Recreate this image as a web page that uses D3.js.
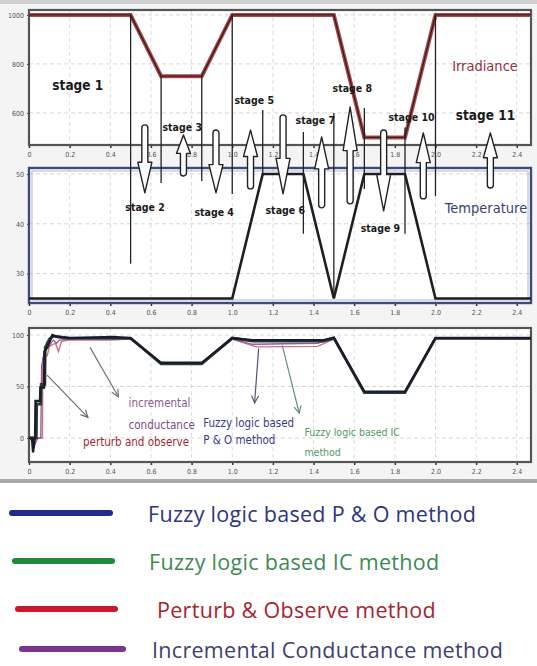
<!DOCTYPE html>
<html>
<head>
<meta charset="utf-8">
<script src="https://cdn.jsdelivr.net/npm/d3@7/dist/d3.min.js"></script>
<style>
  html, body { margin: 0; padding: 0; background: #ffffff; }
  svg { display: block; }
</style>
</head>
<body>
<svg id="chart" width="537" height="666"></svg>
<script>
// ---- data -------------------------------------------------------------
const timeTicks = [0, 0.2, 0.4, 0.6, 0.8, 1.0, 1.2, 1.4, 1.6, 1.8, 2.0, 2.2, 2.4];
const irrTicks = [600, 800, 1000];
const tempTicks = [30, 40, 50];
const powerTicks = [0, 50, 100];

// irradiance profile (W/m2)
const irrT = [0, 0.5, 0.65, 0.85, 1.0, 1.5, 1.65, 1.85, 2.0, 2.47];
const irrV = [1000, 1000, 750, 750, 1000, 1000, 500, 500, 1000, 1000];

// temperature profile (deg C)
const tempT = [0, 1.0, 1.15, 1.35, 1.5, 1.65, 1.85, 2.0, 2.47];
const tempV = [25, 25, 50, 50, 25, 50, 50, 25, 25];

// stage boundaries: line runs from irradiance level (top) to temperature level (bottom)
const boundT = [0.5, 0.65, 0.85, 1.0, 1.15, 1.35, 1.5, 1.65, 1.85, 2.0];
const boundTopIrr = [1000, 750, 750, 1000, 612, 522, 600, 620, 540, 1000];
const boundBottomTemp = [32, 48.2, 48.6, 46, 49.6, 38, 25.6, 47, 38, 45.6];

// hollow direction arrows of each changing stage
const arrowT = [0.57, 0.76, 0.92, 1.09, 1.25, 1.44, 1.58, 1.745, 1.94, 2.27];
const arrowDir = ["down", "up", "down", "up", "down", "up", "up", "down", "up", "up"];
const arrowTopIrr = [551, 510, 530, 530, 592, 502, 624, 530, 518, 518];
const arrowBottomTemp = [46.2, 49.6, 46.2, 47, 46, 43.2, 44, 42.6, 45, 47.2];

// stage names and where they sit (panel: "irr" or "temp")
const stageNames = ["stage 1", "stage 2", "stage 3", "stage 4", "stage 5", "stage 6",
                    "stage 7", "stage 8", "stage 9", "stage 10", "stage 11"];
const stageT = [0.24, 0.571, 0.754, 0.911, 1.108, 1.261, 1.409, 1.591, 1.729, 1.882, 2.246];
const stageV = [714, 43.3, 543, 42.3, 653, 42.7, 571, 702, 39.1, 584, 592];
const stagePanel = ["irr", "temp", "irr", "temp", "irr", "temp", "irr", "irr", "temp", "irr", "irr"];
const stageBig = [true, false, false, false, false, false, false, false, false, false, true];

// tracked power (%) for each MPPT method
const fpoT = [0, 0.015, 0.02, 0.025, 0.03, 0.032, 0.054, 0.056, 0.074, 0.076, 0.09, 0.115, 0.14, 0.2, 0.41, 0.5, 0.65, 0.85, 1.0, 1.1, 1.45, 1.5, 1.65, 1.85, 2.0, 2.47];
const fpoV = [0, 0, -14, -2, 0, 36, 36, 49, 49, 84, 88, 100, 98, 97, 98, 97, 73, 73, 97, 95, 95, 97.5, 45, 45, 97, 97];

const ficT = [0, 0.018, 0.022, 0.028, 0.036, 0.038, 0.058, 0.06, 0.078, 0.08, 0.1, 0.12, 0.2, 0.5, 0.65, 0.85, 1.0, 1.1, 1.45, 1.5, 1.65, 1.85, 2.0, 2.47];
const ficV = [0, 0, -10, 0, 0, 33, 33, 52, 52, 88, 96, 99, 97, 97, 72, 72, 97, 94, 94, 97, 44, 44, 97, 97];

const poT = [0, 0.02, 0.03, 0.045, 0.066, 0.068, 0.09, 0.1, 0.13, 0.145, 0.16, 0.2, 0.4, 0.5, 0.65, 0.85, 1.0, 1.12, 1.42, 1.5, 1.65, 1.85, 2.0, 2.47];
const poV = [0, -4, -6, 0, 0, 78, 80, 89, 92, 84, 94, 95, 95, 96, 72, 72, 96, 88.5, 89, 96, 44, 44, 96, 96];

const icT = [0, 0.058, 0.062, 0.08, 0.1, 0.12, 0.135, 0.15, 0.2, 0.4, 0.5, 0.65, 0.85, 1.0, 1.1, 1.42, 1.5, 1.65, 1.85, 2.0, 2.47];
const icV = [0, 0, 70, 88, 90, 95, 92, 95, 96, 96, 96, 72.5, 72.5, 96, 91, 92, 97, 45, 45, 97, 96];

// callout arrows in the power panel: [t0, p0] -> [t1, p1]
const calloutFrom = [[0.089, 61], [0.30, 88], [1.13, 87], [1.246, 90]];
const calloutTo = [[0.29, 20], [0.44, 40], [1.11, 34], [1.33, 24]];
const calloutColor = ["#7a6a6e", "#7a7078", "#50557a", "#5f8f7a"];

// callout texts: [t, p] for the left end of each line
const noteText = ["incremental", "conductance", "perturb and observe", "Fuzzy logic based",
                  "P & O method", "Fuzzy logic based IC", "method"];
const noteT = [0.49, 0.49, 0.266, 0.857, 0.857, 1.355, 1.355];
const noteP = [34, 13, -4, 15, -2, 6, -14];
const noteColor = ["#8a5a8e", "#7a4a84", "#9a2c34", "#3a3c8a", "#3a3c8a", "#4f9a62", "#4f9a62"];
const noteSize = [11.5, 11.5, 11.5, 11.5, 11.5, 10.5, 10.5];

// legend
const legendNames = ["Fuzzy logic based P & O method", "Fuzzy logic based IC method",
                     "Perturb & Observe method", "Incremental Conductance method"];
const legendLineColor = ["#1f2b8f", "#1e8c3a", "#c8192e", "#7a3590"];
const legendTextColor = ["#2e3580", "#3d8a55", "#a82430", "#3e3f6e"];

// ---- layout -----------------------------------------------------------
const svg = d3.select("#chart");
const narrow = "'Liberation Sans Narrow', 'DejaVu Sans Condensed', 'Arial Narrow', sans-serif";
const left = 29, right = 531;

const x = d3.scaleLinear().domain([0, 2.47]).range([left, right]);
const yIrr = d3.scaleLinear().domain([469, 1020]).range([145, 10]);
const yTemp = d3.scaleLinear().domain([24.1, 51.2]).range([303, 168]);
const yPow = d3.scaleLinear().domain([-23.3, 106.8]).range([462, 328]);

// figure background
svg.append("rect").attr("x", 0).attr("y", 0).attr("width", 537).attr("height", 482).attr("fill", "#f4f4f4");
svg.append("rect").attr("x", 0).attr("y", 0).attr("width", 537).attr("height", 4).attr("fill", "#cfcfcf");
svg.append("rect").attr("x", 0).attr("y", 479).attr("width", 537).attr("height", 4).attr("fill", "#a9a9a9");

const defs = svg.append("defs");

function panel(yScale, yTicks, frameColor, frameWidth, id) {
  const [y0, y1] = yScale.range(); // bottom, top
  const g = svg.append("g");
  g.append("rect").attr("x", left).attr("y", y1).attr("width", right - left).attr("height", y0 - y1)
    .attr("fill", "#ffffff");
  // grid
  g.selectAll(".vg").data(timeTicks.slice(1)).join("line")
    .attr("x1", d => x(d)).attr("x2", d => x(d)).attr("y1", y1).attr("y2", y0)
    .attr("stroke", "#dcdcdc").attr("stroke-width", 1).attr("stroke-dasharray", "4,3");
  g.selectAll(".hg").data(yTicks).join("line")
    .attr("x1", left).attr("x2", right).attr("y1", d => yScale(d)).attr("y2", d => yScale(d))
    .attr("stroke", "#d6d6d6").attr("stroke-width", 1).attr("stroke-dasharray", "4,3");
  // bottom axis with ticks
  const ax = g.append("g").attr("transform", `translate(0,${y0})`)
    .call(d3.axisBottom(x).tickValues(timeTicks).tickSize(3).tickSizeOuter(0)
      .tickFormat(d => d === 0 ? "0" : d3.format(".1f")(d)));
  ax.select(".domain").remove();
  ax.selectAll("line").attr("stroke", "#333").attr("stroke-width", 1.5);
  ax.selectAll("text").attr("font-size", 7).attr("fill", "#555").attr("font-family", narrow).attr("dy", "0.9em");
  // left axis labels
  const ay = g.append("g").attr("transform", `translate(${left},0)`)
    .call(d3.axisLeft(yScale).tickValues(yTicks).tickSize(2).tickSizeOuter(0).tickFormat(d3.format("d")));
  ay.select(".domain").remove();
  ay.selectAll("line").attr("stroke", "#333");
  ay.selectAll("text").attr("font-size", 7).attr("fill", "#555").attr("font-family", narrow);
  // frame
  g.append("rect").attr("x", left).attr("y", y1).attr("width", right - left).attr("height", y0 - y1)
    .attr("fill", "none").attr("stroke", frameColor).attr("stroke-width", frameWidth);
  defs.append("clipPath").attr("id", id).append("rect")
    .attr("x", left).attr("y", y1).attr("width", right - left).attr("height", y0 - y1);
  return g;
}

panel(yIrr, irrTicks, "#555555", 2.2, "clipIrr");
panel(yTemp, tempTicks, "#3d4b7c", 2.4, "clipTemp");
panel(yPow, powerTicks, "#555555", 2.2, "clipPow");

// second inner line of the temperature frame
svg.append("rect").attr("x", left + 3).attr("y", yTemp.range()[1] + 3)
  .attr("width", right - left - 6).attr("height", yTemp.range()[0] - yTemp.range()[1] - 6)
  .attr("fill", "none").attr("stroke", "#9aa6c6").attr("stroke-width", 0.8);

const line = (ys) => d3.line().x(d => x(d[0])).y(d => ys(d[1]));
const zip = (a, b) => a.map((v, i) => [v, b[i]]);

// irradiance
const irrData = zip(irrT, irrV);
svg.append("path").datum(irrData).attr("d", line(yIrr)).attr("fill", "none")
  .attr("stroke", "#a44a4a").attr("stroke-width", 4).attr("clip-path", "url(#clipIrr)");
svg.append("path").datum(irrData).attr("d", line(yIrr)).attr("fill", "none")
  .attr("stroke", "#4a1818").attr("stroke-width", 1.4).attr("clip-path", "url(#clipIrr)");

// temperature
svg.append("path").datum(zip(tempT, tempV)).attr("d", line(yTemp)).attr("fill", "none")
  .attr("stroke", "#1e1e24").attr("stroke-width", 2.6).attr("clip-path", "url(#clipTemp)");

// stage boundary lines
svg.append("g").selectAll("line").data(boundT).join("line")
  .attr("x1", d => x(d)).attr("x2", d => x(d))
  .attr("y1", (d, i) => yIrr(boundTopIrr[i])).attr("y2", (d, i) => yTemp(boundBottomTemp[i]))
  .attr("stroke", "#222").attr("stroke-width", 1.3);

// hollow arrows
function blockArrow(cx, yTop, yBot, dir) {
  const hw = 7, sw = 3;
  const len = yBot - yTop, head = len * 0.45;
  if (dir === "down") {
    const hb = yBot - head;
    return `M${cx - sw},${yTop + sw} A${sw},${sw} 0 0 1 ${cx + sw},${yTop + sw} L${cx + sw},${hb} L${cx + hw},${hb} L${cx},${yBot} L${cx - hw},${hb} L${cx - sw},${hb} Z`;
  }
  const hb = yTop + head;
  return `M${cx},${yTop} L${cx + hw},${hb} L${cx + sw},${hb} L${cx + sw},${yBot - sw} A${sw},${sw} 0 0 1 ${cx - sw},${yBot - sw} L${cx - sw},${hb} L${cx - hw},${hb} Z`;
}
svg.append("g").selectAll("path").data(arrowT).join("path")
  .attr("d", (d, i) => blockArrow(x(d), yIrr(arrowTopIrr[i]), yTemp(arrowBottomTemp[i]), arrowDir[i]))
  .attr("fill", "#ffffff").attr("stroke", "#222").attr("stroke-width", 1.4).attr("stroke-linejoin", "round");

// stage labels
svg.append("g").selectAll("text").data(stageNames).join("text")
  .attr("x", (d, i) => x(stageT[i]))
  .attr("y", (d, i) => stagePanel[i] === "irr" ? yIrr(stageV[i]) : yTemp(stageV[i]))
  .attr("text-anchor", "middle").attr("dominant-baseline", "central")
  .attr("font-family", narrow).attr("font-weight", "bold")
  .attr("font-size", (d, i) => stageBig[i] ? 13.5 : 10.5)
  .attr("fill", "#1a1a1a").text(d => d);

// panel titles
svg.append("text").attr("x", 485).attr("y", 66).attr("text-anchor", "middle").attr("dominant-baseline", "central")
  .attr("font-family", narrow).attr("font-size", 14.5).attr("fill", "#8e3442").text("Irradiance");
svg.append("text").attr("x", 486).attr("y", 208).attr("text-anchor", "middle").attr("dominant-baseline", "central")
  .attr("font-family", narrow).attr("font-size", 14.5).attr("fill", "#3a3f72").text("Temperature");

// power curves
const pg = svg.append("g").attr("clip-path", "url(#clipPow)");
pg.append("path").datum(zip(poT, poV)).attr("d", line(yPow)).attr("fill", "none")
  .attr("stroke", "#d0707e").attr("stroke-width", 1.4);
pg.append("path").datum(zip(icT, icV)).attr("d", line(yPow)).attr("fill", "none")
  .attr("stroke", "#8e5aa0").attr("stroke-width", 1.3);
pg.append("path").datum(zip(ficT, ficV)).attr("d", line(yPow)).attr("fill", "none")
  .attr("stroke", "#25422e").attr("stroke-width", 2.8);
pg.append("path").datum(zip(fpoT, fpoV)).attr("d", line(yPow)).attr("fill", "none")
  .attr("stroke", "#1b1b2e").attr("stroke-width", 2.4);

// callouts
const cg = svg.append("g");
calloutFrom.forEach((f, i) => {
  const x0 = x(f[0]), y0 = yPow(f[1]), x1 = x(calloutTo[i][0]), y1 = yPow(calloutTo[i][1]);
  const a = Math.atan2(y1 - y0, x1 - x0), L = 8, s = 0.45;
  cg.append("line").attr("x1", x0).attr("y1", y0).attr("x2", x1).attr("y2", y1)
    .attr("stroke", calloutColor[i]).attr("stroke-width", 1.2);
  cg.append("path")
    .attr("d", `M${x1 - L * Math.cos(a - s)},${y1 - L * Math.sin(a - s)} L${x1},${y1} L${x1 - L * Math.cos(a + s)},${y1 - L * Math.sin(a + s)}`)
    .attr("fill", "none").attr("stroke", calloutColor[i]).attr("stroke-width", 1.2);
});
svg.append("g").selectAll("text").data(noteText).join("text")
  .attr("x", (d, i) => x(noteT[i])).attr("y", (d, i) => yPow(noteP[i]))
  .attr("dominant-baseline", "central").attr("font-family", narrow)
  .attr("font-size", (d, i) => noteSize[i]).attr("fill", (d, i) => noteColor[i]).text(d => d);

// legend
const legRowY = [513, 561, 609, 649];
const legLineX = [[12, 110], [15, 112], [18, 115], [22, 123]];
const legTextX = [148, 149, 157, 152];
const lg = svg.append("g");
legendNames.forEach((name, i) => {
  lg.append("line").attr("x1", legLineX[i][0]).attr("x2", legLineX[i][1])
    .attr("y1", legRowY[i]).attr("y2", legRowY[i])
    .attr("stroke", legendLineColor[i]).attr("stroke-width", 6).attr("stroke-linecap", "round");
  lg.append("text").attr("x", legTextX[i]).attr("y", legRowY[i]).attr("dominant-baseline", "central")
    .attr("font-family", "'Open Sans', Lato, sans-serif").attr("font-size", 21.5)
    .attr("letter-spacing", 0.3)
    .attr("fill", legendTextColor[i]).text(name);
});
</script>
</body>
</html>
